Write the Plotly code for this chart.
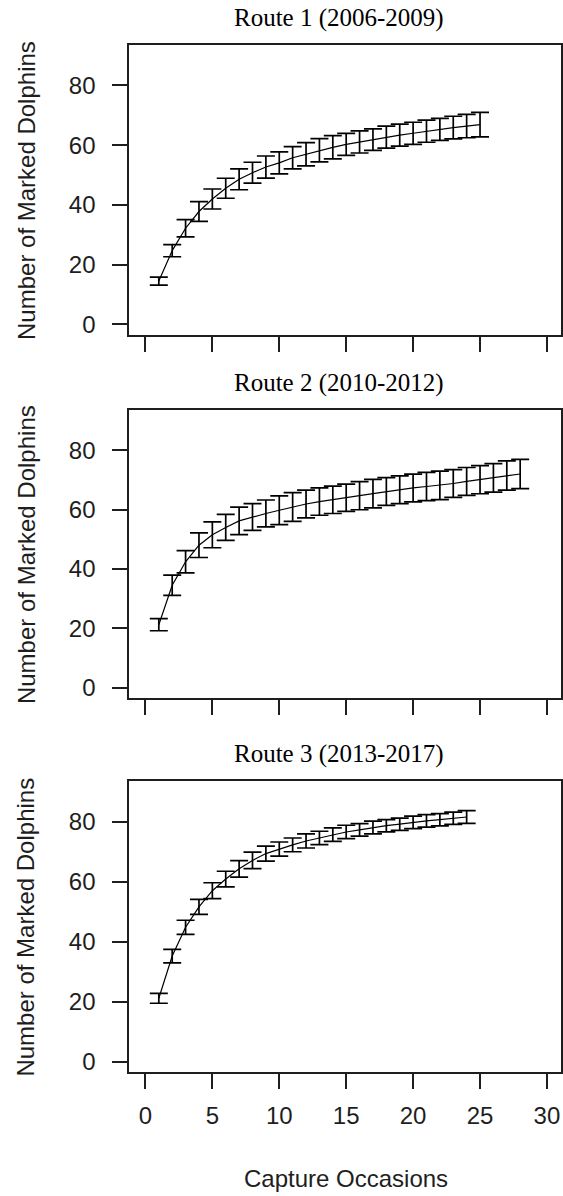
import plotly.graph_objects as go

# ---- data ----
occ_route1 = [1, 2, 3, 4, 5, 6, 7, 8, 9, 10, 11, 12, 13, 14, 15, 16, 17, 18, 19, 20, 21, 22, 23, 24, 25]
mean_route1 = [14.5, 24.7, 32.2, 37.8, 42.0, 45.6, 48.6, 50.8, 52.7, 54.1, 55.8, 57.0, 58.3, 59.3, 60.3,
               61.1, 61.9, 62.7, 63.4, 64.0, 64.7, 65.3, 65.9, 66.4, 66.9]
err_route1 = [1.35, 2.05, 2.9, 3.3, 3.35, 3.35, 3.5, 3.5, 3.7, 3.7, 3.75, 3.9, 3.9, 3.9, 3.7,
              3.7, 3.6, 3.7, 3.7, 3.7, 3.7, 3.7, 3.8, 3.9, 4.1]

occ_route2 = [1, 2, 3, 4, 5, 6, 7, 8, 9, 10, 11, 12, 13, 14, 15, 16, 17, 18, 19, 20, 21, 22, 23, 24, 25, 26, 27, 28]
mean_route2 = [21.2, 34.5, 42.4, 48.0, 51.5, 54.0, 56.2, 57.5, 58.7, 59.8, 60.9, 61.9, 62.7, 63.3, 64.0,
               64.7, 65.4, 66.1, 66.7, 67.3, 67.8, 68.2, 68.8, 69.5, 70.1, 70.7, 71.5, 72.0]
err_route2 = [2.05, 3.4, 3.75, 4.15, 4.35, 4.4, 4.65, 4.5, 4.55, 4.85, 4.85, 4.7, 4.6, 4.6, 4.6,
              4.75, 4.8, 4.7, 4.7, 4.7, 4.75, 4.8, 4.7, 4.7, 4.75, 4.8, 4.95, 4.95]

occ_route3 = [1, 2, 3, 4, 5, 6, 7, 8, 9, 10, 11, 12, 13, 14, 15, 16, 17, 18, 19, 20, 21, 22, 23, 24]
mean_route3 = [21.1, 35.2, 44.8, 51.6, 57.0, 60.9, 64.3, 67.1, 69.4, 70.9, 72.3, 73.6, 74.6, 75.7, 76.6,
               77.3, 78.1, 78.7, 79.2, 79.8, 80.3, 80.7, 81.2, 81.6]
err_route3 = [1.65, 2.25, 2.35, 2.5, 2.65, 2.6, 2.75, 2.75, 2.5, 2.35, 2.3, 2.35, 2.25, 2.25, 2.25,
              2.1, 2.1, 2.05, 2.05, 2.1, 2.1, 2.05, 2.05, 2.15]

titles = ["Route 1 (2006-2009)", "Route 2 (2010-2012)", "Route 3 (2013-2017)"]
y_label = "Number of Marked Dolphins"
x_label = "Capture Occasions"
y_ticks = [0, 20, 40, 60, 80]
x_ticks = [0, 5, 10, 15, 20, 25, 30]

# ---- layout geometry (pixels) ----
W, H = 563, 1196
left_px, right_px = 129.6, 562.0
panels_px = [(45, 336), (411, 700), (783, 1075)]  # (top, bottom)

SANS = "Liberation Sans, Arial, sans-serif"
SERIF = "Liberation Serif, Times New Roman, serif"
INK = "#1e1e1e"

series = [
    (occ_route1, mean_route1, err_route1),
    (occ_route2, mean_route2, err_route2),
    (occ_route3, mean_route3, err_route3),
]

fig = go.Figure()
layout = dict(
    width=W, height=H,
    margin=dict(l=0, r=0, t=0, b=0),
    paper_bgcolor="white", plot_bgcolor="white",
    showlegend=False,
    font=dict(family=SANS, size=24, color=INK),
)
annotations = []

for i, (xs, ys, es) in enumerate(series):
    n = "" if i == 0 else str(i + 1)
    fig.add_trace(go.Scatter(
        x=xs, y=ys, mode="lines",
        line=dict(color="black", width=1.2),
        error_y=dict(type="data", array=es, symmetric=True, visible=True,
                     color="black", thickness=1.7, width=9),
        xaxis="x" + n, yaxis="y" + n,
        hoverinfo="skip",
    ))
    top, bot = panels_px[i]
    layout["xaxis" + n] = dict(
        domain=[left_px / W, right_px / W],
        range=[-1.2, 31.05],
        anchor="y" + n,
        tickvals=x_ticks,
        ticktext=[str(v) for v in x_ticks],
        showticklabels=(i == 2),
        ticks="outside", ticklen=15, tickwidth=2, tickcolor=INK,
        showline=True, linewidth=2, linecolor=INK, mirror=True,
        showgrid=False, zeroline=False,
        tickfont=dict(family=SANS, size=24, color=INK),
        ticklabelstandoff=6,
    )
    layout["yaxis" + n] = dict(
        domain=[1 - bot / H, 1 - top / H],
        range=[-3.6, 93.6],
        anchor="x" + n,
        tickvals=y_ticks,
        ticks="outside", ticklen=15, tickwidth=2, tickcolor=INK,
        showline=True, linewidth=2, linecolor=INK, mirror=True,
        showgrid=False, zeroline=False,
        tickfont=dict(family=SANS, size=24, color=INK),
        ticklabelstandoff=12,
    )
    # panel title
    annotations.append(dict(
        text=titles[i], xref="paper", yref="paper",
        x=340 / W, y=1 - (top - 27) / H, xanchor="center", yanchor="middle",
        showarrow=False, font=dict(family=SERIF, size=25, color="black"),
    ))
    # y-axis label
    annotations.append(dict(
        text=y_label, xref="paper", yref="paper", textangle=-90,
        x=26 / W, y=1 - ((top + bot) / 2) / H, xanchor="center", yanchor="middle",
        showarrow=False, font=dict(family=SANS, size=24, color=INK),
    ))

annotations.append(dict(
    text=x_label, xref="paper", yref="paper",
    x=347 / W, y=1 - 1181 / H, xanchor="center", yanchor="middle",
    showarrow=False, font=dict(family=SANS, size=24, color=INK),
))
layout["annotations"] = annotations
fig.update_layout(**layout)
fig.write_html("out.html")
